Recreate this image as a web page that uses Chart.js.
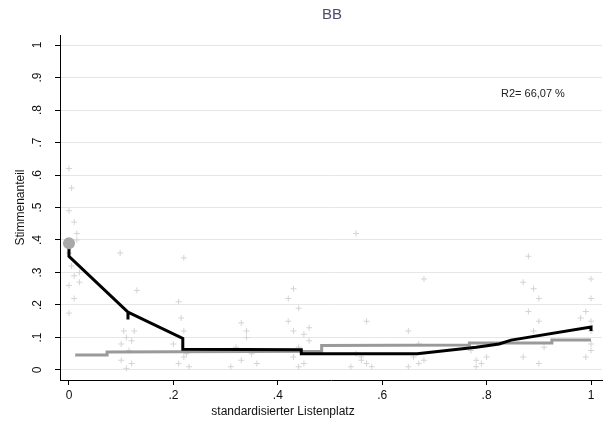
<!DOCTYPE html>
<html>
<head>
<meta charset="utf-8">
<script src="https://cdn.jsdelivr.net/npm/chart.js@4/dist/chart.umd.min.js"></script>
<style>
  html, body { margin: 0; padding: 0; background: #fff; }
  #wrap { width: 608px; height: 425px; }
</style>
</head>
<body>
<div id="wrap"><canvas id="chart"></canvas></div>
<script>
// tick labels
const xTicks = [0, 0.2, 0.4, 0.6, 0.8, 1];
const yTicks = [0, 0.1, 0.2, 0.3, 0.4, 0.5, 0.6, 0.7, 0.8, 0.9, 1];

// Einzelwerte (Streupunkte)
const scatX = [0, 0.005, 0, 0.01, 0.015, 0, 0.005, 0.01, 0, 0.01, 0, 0.02, 0.02, 0.015,
  0.098, 0.13, 0.105, 0.11, 0.12, 0.115, 0.1, 0.12, 0.11, 0.125, 0.1,
  0.22, 0.21, 0.215, 0.22, 0.2, 0.22, 0.21, 0.23, 0.225,
  0.33, 0.34, 0.32, 0.35, 0.33, 0.36, 0.31, 0.34,
  0.43, 0.42, 0.44, 0.42, 0.43, 0.45, 0.46, 0.44, 0.43, 0.45, 0.44, 0.46,
  0.55, 0.57, 0.55, 0.56, 0.57, 0.58, 0.54, 0.56,
  0.65, 0.68, 0.66, 0.67, 0.68, 0.65, 0.67,
  0.77, 0.78, 0.79, 0.78, 0.8,
  0.88, 0.87, 0.89, 0.9, 0.88, 0.9, 0.89, 0.87, 0.91, 0.9,
  1, 1, 0.99, 1, 1, 1, 0.99, 1, 0.98];
const scatY = [0.62, 0.56, 0.49, 0.455, 0.42, 0.36, 0.32, 0.29, 0.26, 0.22, 0.175, 0.30, 0.27, 0.40,
  0.36, 0.245, 0.12, 0.10, 0.09, 0.06, 0.03, 0.02, 0.005, 0.12, 0.08,
  0.345, 0.21, 0.16, 0.12, 0.08, 0.04, 0.02, 0.01, 0.05,
  0.145, 0.10, 0.07, 0.05, 0.03, 0.02, 0.01, 0.12,
  0.25, 0.22, 0.19, 0.15, 0.12, 0.11, 0.09, 0.07, 0.04, 0.02, 0.01, 0.13,
  0.42, 0.15, 0.05, 0.03, 0.02, 0.01, 0.01, 0.04,
  0.12, 0.28, 0.04, 0.02, 0.03, 0.01, 0.08,
  0.06, 0.03, 0.02, 0.01, 0.04,
  0.35, 0.27, 0.25, 0.22, 0.18, 0.15, 0.12, 0.04, 0.07, 0.02,
  0.28, 0.22, 0.18, 0.15, 0.12, 0.08, 0.04, 0.06, 0.16];

// Mittelwert Listenplatz 1
const meanX = [0];
const meanY = [0.39];

// Modell (schwarz)
const modelX = [0, 0, 0.113, 0.113, 0.113, 0.218, 0.218, 0.445, 0.445, 0.667, 0.78, 0.824, 0.847, 1, 1];
const modelY = [0.375, 0.35, 0.178, 0.155, 0.178, 0.097, 0.064, 0.062, 0.05, 0.05, 0.07, 0.08, 0.092, 0.132, 0.12];

// Vergleich (grau)
const compX = [0.012, 0.073, 0.073, 0.484, 0.484, 0.767, 0.767, 0.925, 0.925, 1];
const compY = [0.046, 0.046, 0.055, 0.058, 0.075, 0.077, 0.083, 0.083, 0.092, 0.092];

const r2Text = 'R2= 66,07 %';
const titleText = 'BB';
const xTitle = 'standardisierter Listenplatz';
const yTitle = 'Stimmenanteil';

function pts(xs, ys) {
    return xs.map((x, i) => ({ x: x, y: ys[i] }));
}

function fmt(v) {
    const r = Math.round(v * 10) / 10;
    if (r === 0) return '0';
    if (r === 1) return '1';
    return String(r).replace('0.', '.');
}

// Texte im Stil von Stata
const textPlugin = {
    id: 'stataText',
    afterDraw(chart) {
        const ctx = chart.ctx;
        const y = chart.scales.y;
        ctx.save();
        ctx.fillStyle = '#111';
        ctx.font = '12px "Liberation Sans", Arial, sans-serif';
        ctx.textAlign = 'center';
        ctx.textBaseline = 'middle';
        y.ticks.forEach(t => {
            const py = y.getPixelForValue(t.value);
            ctx.save();
            ctx.translate(38, py);
            ctx.rotate(-Math.PI / 2);
            ctx.fillText(fmt(t.value), 0, 0);
            ctx.restore();
        });
        // y title
        ctx.save();
        ctx.translate(21, (chart.chartArea.top + chart.chartArea.bottom) / 2);
        ctx.rotate(-Math.PI / 2);
        ctx.fillText(yTitle, 0, 0);
        ctx.restore();
        // x title
        ctx.fillText(xTitle, 283, 412);
        // title
        ctx.fillStyle = '#4c4c6c';
        ctx.font = '15px "Liberation Sans", Arial, sans-serif';
        ctx.fillText(titleText, 332, 15);
        // R2
        ctx.fillStyle = '#222';
        ctx.font = '11px "Liberation Sans", Arial, sans-serif';
        ctx.textAlign = 'left';
        ctx.fillText(r2Text, 501, 94);
        ctx.restore();
    }
};

new Chart(document.getElementById('chart'), {
    type: 'scatter',
    data: {
        datasets: [
            {
                data: pts(scatX, scatY),
                pointStyle: 'cross',
                pointRadius: 3,
                borderWidth: 1,
                borderColor: '#d4d4d4',
                backgroundColor: '#d4d4d4',
                order: 4
            },
            {
                data: pts(compX, compY),
                showLine: true,
                borderColor: '#9a9a9a',
                borderWidth: 3,
                pointRadius: 0,
                order: 3
            },
            {
                data: pts(modelX, modelY),
                showLine: true,
                borderColor: '#000',
                borderWidth: 3,
                pointRadius: 0,
                borderJoinStyle: 'miter',
                order: 2
            },
            {
                data: pts(meanX, meanY),
                pointStyle: 'circle',
                pointRadius: 6,
                borderWidth: 0,
                backgroundColor: '#a8a8a8',
                order: 1
            }
        ]
    },
    options: {
        responsive: true,
        maintainAspectRatio: false,
        animation: false,
        layout: { padding: { top: 35, right: 5, left: 0, bottom: 0 } },
        plugins: {
            legend: { display: false },
            tooltip: { enabled: false }
        },
        scales: {
            x: {
                type: 'linear',
                min: -0.0172,
                max: 1.021,
                afterBuildTicks: s => { s.ticks = xTicks.map(v => ({ value: v })); },
                afterFit: s => { s.height = 45; },
                border: { color: '#000', width: 1 },
                grid: { drawOnChartArea: false, drawTicks: true, tickLength: 5, tickColor: '#000' },
                ticks: {
                    color: '#111',
                    font: { size: 12, family: '"Liberation Sans", Arial, sans-serif' },
                    padding: 3,
                    maxRotation: 0,
                    callback: v => fmt(v)
                }
            },
            y: {
                min: -0.0308,
                max: 1.0308,
                afterBuildTicks: s => { s.ticks = yTicks.map(v => ({ value: v })); },
                afterFit: s => { s.width = 60; },
                border: { color: '#000', width: 1 },
                grid: { color: '#e6e6e6', lineWidth: 1, drawTicks: true, tickLength: 5, tickColor: '#000' },
                ticks: { display: false }
            }
        }
    },
    plugins: [textPlugin]
});
</script>
</body>
</html>
